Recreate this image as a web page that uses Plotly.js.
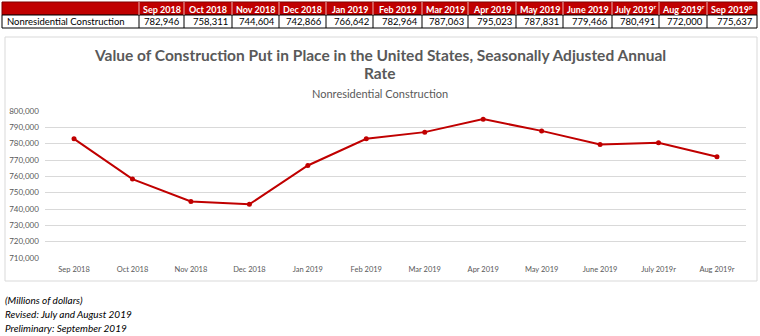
<!DOCTYPE html>
<html>
<head>
<meta charset="utf-8">
<script src="https://cdn.plot.ly/plotly-3.0.1.min.js"></script>
<style>
html,body{margin:0;padding:0;background:#fff;}
#chart{width:760px;height:336px;}
</style>
</head>
<body>
<div id="chart"></div>
<script>
// ---- data ----
var tableMonths = ['Sep 2018','Oct 2018','Nov 2018','Dec 2018','Jan 2019','Feb 2019','Mar 2019','Apr 2019','May 2019','June 2019','July 2019<sup>r</sup>','Aug 2019<sup>r</sup>','Sep 2019<sup>p</sup>'];
var tableValues = [782946,758311,744604,742866,766642,782964,787063,795023,787831,779466,780491,772000,775637];
var seriesLabel = 'Nonresidential Construction';
var chartCategories = ['Sep 2018','Oct 2018','Nov 2018','Dec 2018','Jan 2019','Feb 2019','Mar 2019','Apr 2019','May 2019','June 2019','July 2019r','Aug 2019r'];
var chartValues = [782946,758311,744604,742866,766642,782964,787063,795023,787831,779466,780491,772000];
var titleLine1 = 'Value of Construction Put in Place in the United States, Seasonally Adjusted Annual';
var titleLine2 = 'Rate';
var subtitle = 'Nonresidential Construction';
var footnotes = ['(Millions of dollars)','Revised: July and August 2019','Preliminary: September 2019'];

// ---- layout helpers ----
var W = 760, H = 336;
function py(pix){ return 1 - pix/H; }
function px(pix){ return pix/W; }
var FONT = 'Lato, "Open Sans", sans-serif';
var GRAY = '#595959';
var RED = '#c00000';

// table geometry (pixels)
var colEdges = [2,139,184,232,279,326,373,422,468,516,563,612,659,707,757];
var rowTop = 2, rowMid = 15, rowBot = 28;

var shapes = [];
var annotations = [];
// header fill
shapes.push({type:'rect', xref:'paper', yref:'paper', x0:px(colEdges[0]), x1:px(colEdges[colEdges.length-1]),
  y0:py(rowMid), y1:py(rowTop), fillcolor:RED, line:{color:'#7f0000', width:1}, layer:'above'});
// body row
shapes.push({type:'rect', xref:'paper', yref:'paper', x0:px(colEdges[0]), x1:px(colEdges[colEdges.length-1]),
  y0:py(rowBot), y1:py(rowMid), fillcolor:'#ffffff', line:{color:'#000000', width:1}, layer:'above'});
for (var i=1;i<colEdges.length-1;i++){
  shapes.push({type:'line', xref:'paper', yref:'paper', x0:px(colEdges[i]), x1:px(colEdges[i]),
    y0:py(rowMid), y1:py(rowTop), line:{color:'#e8b0b0', width:1}, layer:'above'});
  shapes.push({type:'line', xref:'paper', yref:'paper', x0:px(colEdges[i]), x1:px(colEdges[i]),
    y0:py(rowBot), y1:py(rowMid), line:{color:'#000000', width:1}, layer:'above'});
}
// header texts & values
tableMonths.forEach(function(m,j){
  var l = colEdges[j+1], r = colEdges[j+2];
  annotations.push({text:'<b>'+m+'</b>', x:px((l+r)/2), y:py((rowTop+rowMid)/2+0.5), xref:'paper', yref:'paper',
    showarrow:false, xanchor:'center', yanchor:'middle', font:{family:FONT, size:9, color:'#ffffff'}});
  annotations.push({text:tableValues[j].toLocaleString('en-US'), x:px(r-2), y:py((rowMid+rowBot)/2+0.5), xref:'paper', yref:'paper',
    showarrow:false, xanchor:'right', yanchor:'middle', font:{family:FONT, size:9.5, color:'#000000'}});
});
annotations.push({text:seriesLabel, x:px(colEdges[0]+3), y:py((rowMid+rowBot)/2+0.5), xref:'paper', yref:'paper',
  showarrow:false, xanchor:'left', yanchor:'middle', font:{family:FONT, size:9.5, color:'#000000'}});

var line = {
  type:'scatter', mode:'lines+markers',
  x: chartCategories, y: chartValues,
  line:{color:RED, width:2},
  marker:{color:RED, size:5},
  hoverinfo:'skip', showlegend:false
};

annotations.push(
  {text:titleLine1, x:0.5, y:py(55), xref:'paper', yref:'paper', showarrow:false, xanchor:'center', yanchor:'middle',
   font:{family:FONT, size:15.5, color:GRAY, weight:'bold'}},
  {text:titleLine2, x:0.5, y:py(73), xref:'paper', yref:'paper', showarrow:false, xanchor:'center', yanchor:'middle',
   font:{family:FONT, size:15.5, color:GRAY, weight:'bold'}},
  {text:subtitle, x:0.5, y:py(93), xref:'paper', yref:'paper', showarrow:false, xanchor:'center', yanchor:'middle',
   font:{family:FONT, size:11, color:GRAY}}
);
footnotes.forEach(function(t,i){
  annotations.push({text:'<i>'+t+'</i>', x:px(3), y:py(300+14*i), xref:'paper', yref:'paper', showarrow:false,
    xanchor:'left', yanchor:'middle', font:{family:FONT, size:10, color:'#000000'}});
});

// chart frame
shapes.push({type:'rect', xref:'paper', yref:'paper', x0:px(5), x1:px(757), y0:py(281), y1:py(37),
  line:{color:'#d9d9d9', width:1}, fillcolor:'rgba(0,0,0,0)', layer:'below'});

var layout = {
  width:W, height:H,
  margin:{l:0,r:0,t:0,b:0},
  paper_bgcolor:'#ffffff', plot_bgcolor:'#ffffff',
  showlegend:false,
  xaxis:{domain:[px(44.8),px(746.2)], type:'category', range:[-0.5,11.5],
    showgrid:false, zeroline:false, showline:false, ticks:'',
    tickfont:{family:FONT, size:7.5, color:GRAY}, ticklabelstandoff:5, fixedrange:true},
  yaxis:{domain:[py(258),py(111)], range:[710000,800000], dtick:10000, tickformat:',',
    showgrid:true, gridcolor:'#d9d9d9', gridwidth:1, zeroline:false, showline:false, ticks:'',
    tickfont:{family:FONT, size:8, color:GRAY}, ticklabelstandoff:5, fixedrange:true},
  shapes:shapes,
  annotations:annotations
};

Plotly.newPlot('chart', [line], layout, {staticPlot:true, displayModeBar:false});
</script>
</body>
</html>
